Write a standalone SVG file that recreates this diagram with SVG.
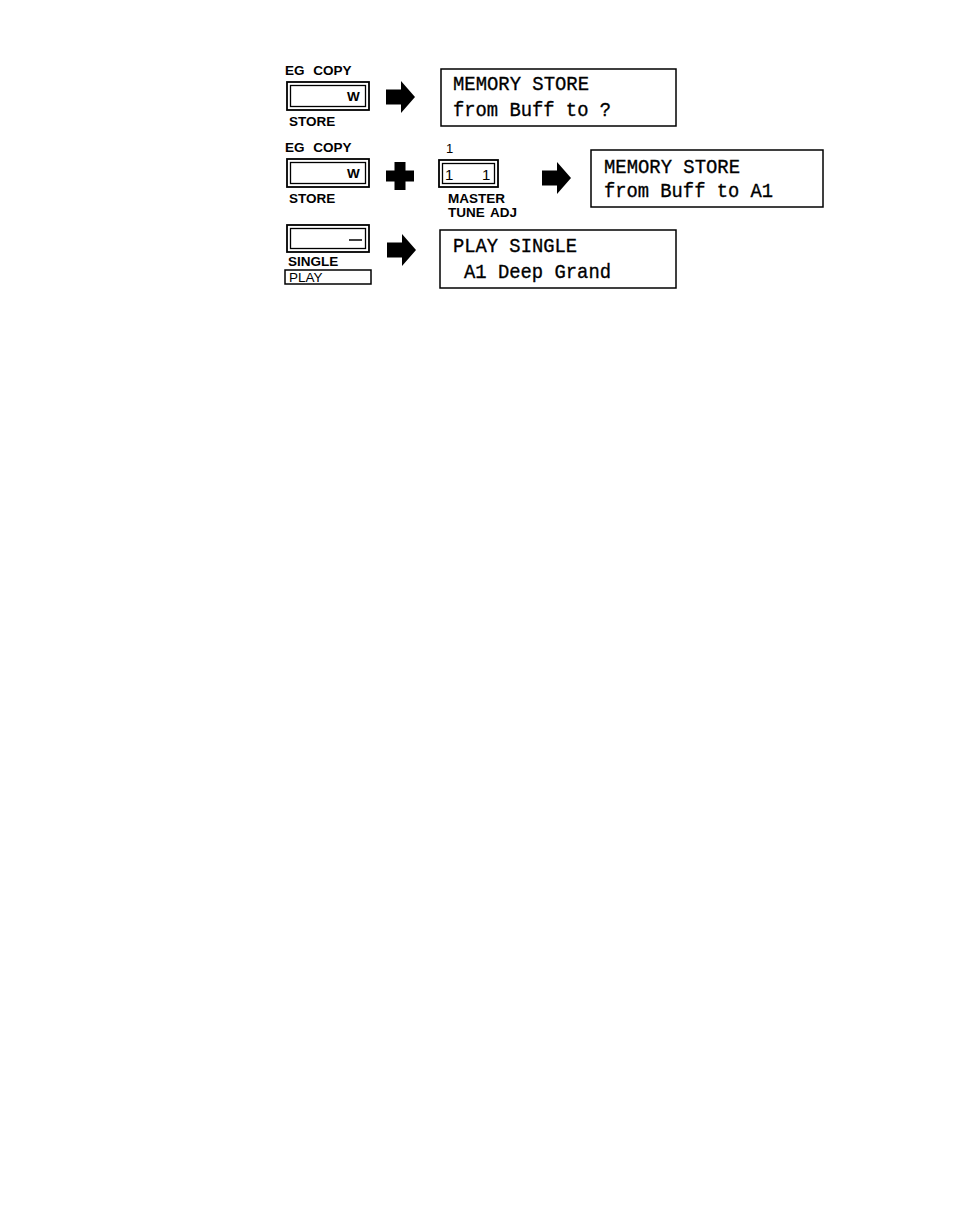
<svg xmlns="http://www.w3.org/2000/svg" width="954" height="1230" viewBox="0 0 954 1230">
<style>
.bg{fill:#ffffff}
.outer{fill:none;stroke:#000;stroke-width:1.8}
.inner{fill:none;stroke:#000;stroke-width:1.3}
.lbl{font-family:"Liberation Sans",Arial,sans-serif;font-size:13.5px;font-weight:bold;fill:#000}
.num{font-family:"Liberation Sans",Arial,sans-serif;font-size:15px;fill:#000}
.lcd{font-family:"Liberation Mono","Courier New",monospace;font-size:21px;fill:#000;stroke:#000;stroke-width:0.35}
.disp{fill:none;stroke:#000;stroke-width:1.5}
.blk{fill:#000}
</style>
<defs>
<path id="arrow" d="M0,-7.5 H15 V-16 L29,0 L15,16 V7.5 H0 Z"/>
</defs>
<rect class="bg" x="0" y="0" width="954" height="1230"/>

<g id="btn-store-1">
<text class="lbl" x="285" y="75" word-spacing="5">EG COPY</text>
<rect class="outer" x="287" y="82" width="82" height="28"/>
<rect class="inner" x="290.5" y="85.5" width="75" height="21"/>
<text class="lbl" x="347" y="101">W</text>
<text class="lbl" x="289" y="126">STORE</text>
</g>

<g id="disp-1">
<rect class="disp" x="441" y="69" width="235" height="57"/>
<text class="lcd" x="453" y="90" textLength="136" lengthAdjust="spacingAndGlyphs">MEMORY STORE</text>
<text class="lcd" x="453" y="116" textLength="158" lengthAdjust="spacingAndGlyphs">from Buff to ?</text>
</g>

<g id="btn-store-2">
<text class="lbl" x="285" y="152" word-spacing="5">EG COPY</text>
<rect class="outer" x="287" y="159" width="82" height="28"/>
<rect class="inner" x="290.5" y="162.5" width="75" height="21"/>
<text class="lbl" x="347" y="178">W</text>
<text class="lbl" x="289" y="203">STORE</text>
</g>

<g id="btn-master-tune">
<text class="num" x="446" y="153" style="font-size:13px">1</text>
<rect class="outer" x="439" y="160" width="59" height="27"/>
<rect class="inner" x="442.5" y="163.5" width="52" height="20"/>
<text class="num" x="445" y="180">1</text>
<text class="num" x="482" y="180">1</text>
<text class="lbl" x="448" y="203">MASTER</text>
<text class="lbl" x="448" y="217" word-spacing="2">TUNE ADJ</text>
</g>

<g id="disp-2">
<rect class="disp" x="591" y="150" width="232" height="57"/>
<text class="lcd" x="604" y="173" textLength="136" lengthAdjust="spacingAndGlyphs">MEMORY STORE</text>
<text class="lcd" x="604" y="197" textLength="169" lengthAdjust="spacingAndGlyphs">from Buff to A1</text>
</g>

<g id="btn-play-single">
<rect class="outer" x="287" y="225" width="82" height="27"/>
<rect class="inner" x="290.5" y="228.5" width="75" height="20"/>
<line x1="349" y1="240" x2="362" y2="240" stroke="#000" stroke-width="1.5"/>
<text class="lbl" x="288" y="266">SINGLE</text>
<rect class="disp" x="285" y="270" width="86" height="14"/>
<text class="lbl" x="289" y="282" style="font-weight:normal">PLAY</text>
</g>

<g id="disp-3">
<rect class="disp" x="440" y="230" width="236" height="58"/>
<text class="lcd" x="453" y="252" textLength="124" lengthAdjust="spacingAndGlyphs">PLAY SINGLE</text>
<text class="lcd" x="464" y="278" textLength="147" lengthAdjust="spacingAndGlyphs">A1 Deep Grand</text>
</g>

<g id="connectors">
<use href="#arrow" class="blk" transform="translate(386,97)"/>
<path class="blk" d="M394.5,162 H405.5 V170.5 H414 V181.5 H405.5 V190 H394.5 V181.5 H386 V170.5 H394.5 Z"/>
<use href="#arrow" class="blk" transform="translate(542,178)"/>
<use href="#arrow" class="blk" transform="translate(387,250)"/>
</g>
</svg>
